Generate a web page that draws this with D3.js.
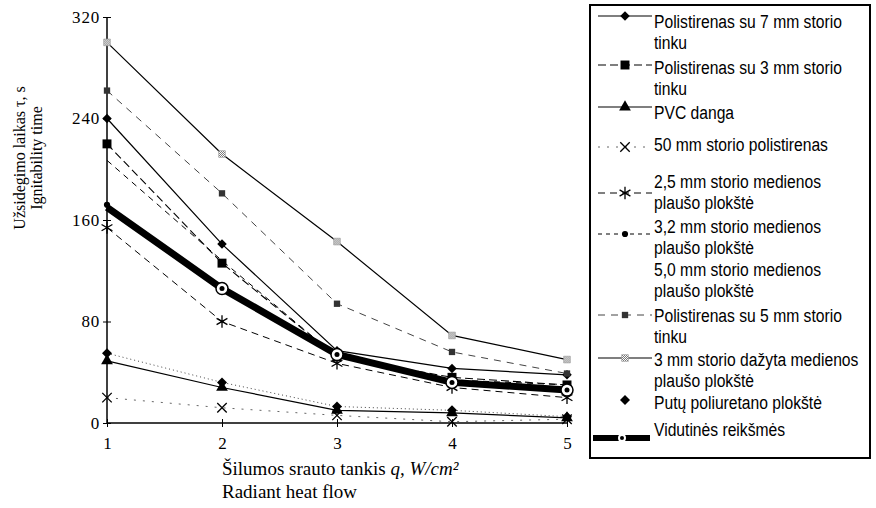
<!DOCTYPE html>
<html>
<head>
<meta charset="utf-8">
<script src="https://cdn.jsdelivr.net/npm/d3@7"></script>
<style>
  body { margin: 0; background: #fff; }
  svg { display: block; }
  .serif { font-family: "Liberation Serif", "Times New Roman", serif; }
  .narrow { font-family: "Liberation Sans Narrow", "Arial Narrow", "Liberation Sans", sans-serif; }
</style>
</head>
<body>
<script>
// heat flow q, W/cm2
const heatFlow = [1, 2, 3, 4, 5];
const yTicks = [0, 80, 160, 240, 320];

// ignitability time, s
const pol7mm    = [240, 141, 57, 43, 38];
const pol3mm    = [220, 126, 52, 36, 30];
const pvc       = [49, 28, 10, 8, 4];
const pol50mm   = [20, 12, 6, 1, 3];
const plaus25   = [154, 80, 47, 28, 20];
const plaus32   = [172, 106, 55, 32, 27];
const plaus50   = [207, 128, 52, 34, 30];
const pol5mm    = [262, 181, 94, 56, 39];
const dazyta3mm = [300, 212, 143, 69, 50];
const putu      = [55, 32, 13, 10, 5];
const mean      = [170, 106, 54, 32, 26];

const legendLabels = [
  ["Polistirenas su 7 mm storio", "tinku"],
  ["Polistirenas su 3 mm storio", "tinku"],
  ["PVC danga"],
  ["50 mm storio polistirenas"],
  ["2,5 mm storio medienos", "plaušo plokštė"],
  ["3,2 mm storio medienos", "plaušo plokštė"],
  ["5,0 mm storio medienos", "plaušo plokštė"],
  ["Polistirenas su 5 mm storio", "tinku"],
  ["3 mm storio dažyta medienos", "plaušo plokštė"],
  ["Putų poliuretano plokštė"],
  ["Vidutinės reikšmės"]
];

const width = 876, height = 508;

const svg = d3.select("body").append("svg")
  .attr("width", width).attr("height", height);

const defs = svg.append("defs");
const hatch = defs.append("pattern").attr("id", "hatch")
  .attr("width", 2).attr("height", 2).attr("patternUnits", "userSpaceOnUse");
hatch.append("rect").attr("width", 2).attr("height", 2).attr("fill", "#fff");
hatch.append("rect").attr("width", 1).attr("height", 1).attr("fill", "#777");
hatch.append("rect").attr("x", 1).attr("y", 1).attr("width", 1).attr("height", 1).attr("fill", "#777");

const x = d3.scaleLinear().domain([1, 5]).range([107, 567]);
const y = d3.scaleLinear().domain([0, 320]).range([423, 17]);

// series styling
const series = [
  {v: pol7mm,    dash: null,   w: 1.2, col: "#000", sym: d3.symbolSquare,   rot: 45, size: 45, fill: "#000"},
  {v: pol3mm,    dash: "8,4",  w: 1.1, col: "#000", sym: d3.symbolSquare,   size: 80, fill: "#000"},
  {v: pvc,       dash: null,   w: 1.2, col: "#000", sym: d3.symbolTriangle, size: 60, fill: "#000"},
  {v: pol50mm,   dash: "2,7",  w: 1,   col: "#666", sym: d3.symbolX,        size: 60, fill: "none", stroke: true},
  {v: plaus25,   dash: "7,5",  w: 1,   col: "#000", sym: d3.symbolAsterisk, size: 110, fill: "none", stroke: true},
  {v: plaus32,   dash: "4,4",  w: 1,   col: "#000", sym: d3.symbolCircle,   size: 30, fill: "#000"},
  {v: plaus50,   dash: "6,5",  w: 1,   col: "#000", sym: null},
  {v: pol5mm,    dash: "7,6",  w: 1,   col: "#444", sym: d3.symbolSquare,   size: 40, fill: "#333"},
  {v: dazyta3mm, dash: null,   w: 1.2, col: "#000", sym: d3.symbolSquare,   size: 45, fill: "url(#hatch)"},
  {v: putu,      dash: "1,3",  w: 1,   col: "#444", sym: d3.symbolSquare,   rot: 45, size: 50, fill: "#000"},
];

// axes
const yAxis = svg.append("g").attr("transform", `translate(${x(1)},0)`)
  .call(d3.axisLeft(y).tickValues(yTicks).tickSize(4).tickFormat(d3.format("d")));
yAxis.selectAll(".tick line").attr("x1", -4).attr("x2", 4);
yAxis.select(".domain").attr("d", `M0,${y(320)}V${y(0)}`).attr("stroke-width", 1.5);
yAxis.selectAll(".tick text").attr("x", -7).attr("class", "serif")
  .style("font-size", "17px").style("letter-spacing", "0.8px");

const xAxis = svg.append("g").attr("transform", `translate(0,${y(0)})`)
  .call(d3.axisBottom(x).tickValues(heatFlow).tickSize(4).tickFormat(d3.format("d")));
xAxis.selectAll(".tick line").attr("y1", -4).attr("y2", 4);
xAxis.select(".domain").attr("d", `M${x(1)},0H${x(5)}`).attr("stroke-width", 1.5);
xAxis.selectAll(".tick text").attr("y", 14).attr("class", "serif").style("font-size", "17px");

const line = d3.line().x((d, i) => x(heatFlow[i])).y(d => y(d));

// series lines
series.forEach(s => {
  svg.append("path").datum(s.v).attr("d", line)
    .attr("fill", "none").attr("stroke", s.col).attr("stroke-width", s.w)
    .attr("stroke-dasharray", s.dash);
});

// mean line
svg.append("path").datum(mean).attr("d", line)
  .attr("fill", "none").attr("stroke", "#000").attr("stroke-width", 7);

function drawSymbol(g, s, cx, cy) {
  if (!s.sym) return;
  g.append("path").attr("d", d3.symbol(s.sym, s.size)())
    .attr("transform", `translate(${cx},${cy}) rotate(${s.rot || 0})`)
    .attr("fill", s.fill)
    .attr("stroke", s.stroke ? "#000" : (s.fill === "url(#hatch)" ? "#999" : "none"))
    .attr("stroke-width", s.stroke ? 1.3 : 0.6);
}

series.forEach(s => {
  s.v.forEach((d, i) => drawSymbol(svg, s, x(heatFlow[i]), y(d)));
});

// mean markers
mean.forEach((d, i) => {
  if (i === 0) return;
  svg.append("circle").attr("cx", x(heatFlow[i])).attr("cy", y(d)).attr("r", 6)
    .attr("fill", "#fff").attr("stroke", "#000").attr("stroke-width", 1.5);
  svg.append("circle").attr("cx", x(heatFlow[i])).attr("cy", y(d)).attr("r", 2.5).attr("fill", "#000");
});

// axis titles
const xt = svg.append("text").attr("class", "serif").attr("x", 222).attr("y", 475)
  .style("font-size", "19px");
xt.append("tspan").text("Šilumos srauto tankis ");
xt.append("tspan").style("font-style", "italic").text("q, W/cm²");
svg.append("text").attr("class", "serif").attr("x", 222).attr("y", 498)
  .style("font-size", "19px").text("Radiant heat flow");

const yt = svg.append("text").attr("class", "serif")
  .attr("transform", "translate(25,158) rotate(-90)")
  .attr("text-anchor", "middle").style("font-size", "16px");
yt.append("tspan").attr("x", 0).attr("dy", 0).text("Užsidegimo laikas τ, s");
yt.append("tspan").attr("x", 0).attr("dy", 17).text("Ignitability time");

// legend
const lg = svg.append("g");
lg.append("rect").attr("x", 590).attr("y", 5).attr("width", 280).attr("height", 453)
  .attr("fill", "none").attr("stroke", "#000").attr("stroke-width", 2);

const legendTextY = [22, 68, 113, 145, 182, 227, 270, 316, 360, 403, 430];
const legendSymY  = [16, 65, 107, 147, 193, 234, 281, 315, 358, 400, 438];
const lineH = 21;

legendLabels.forEach((lines, i) => {
  const t = lg.append("g").attr("transform", `translate(654,${legendTextY[i]}) scale(0.87,1)`)
    .append("text").attr("class", "narrow").style("font-size", "18px");
  lines.forEach((ln, k) => t.append("tspan").attr("x", 0).attr("dy", k === 0 ? "0.36em" : lineH).text(ln));
  const sy = legendSymY[i];
  if (i < series.length) {
    const s = series[i];
    if (i !== 6) {
      lg.append("line").attr("x1", 598).attr("x2", 652).attr("y1", sy).attr("y2", sy)
        .attr("stroke", s.col).attr("stroke-width", i === 9 ? 0 : s.w)
        .attr("stroke-dasharray", s.dash);
      drawSymbol(lg, s, 625, sy);
    }
  } else {
    lg.append("line").attr("x1", 593).attr("x2", 650).attr("y1", sy).attr("y2", sy)
      .attr("stroke", "#000").attr("stroke-width", 6);
    lg.append("circle").attr("cx", 622).attr("cy", sy).attr("r", 4).attr("fill", "#fff");
    lg.append("circle").attr("cx", 622).attr("cy", sy).attr("r", 2).attr("fill", "#000");
  }
});
</script>
</body>
</html>
